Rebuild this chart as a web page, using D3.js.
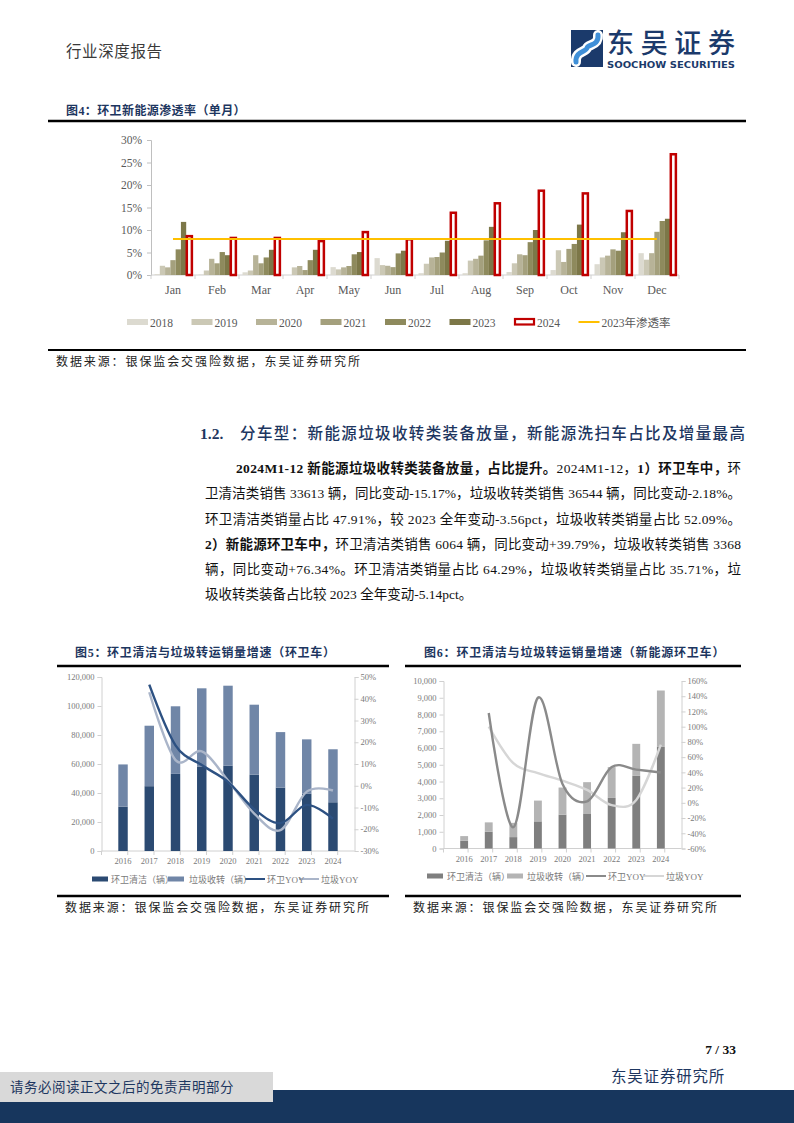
<!DOCTYPE html>
<html><head><meta charset="utf-8">
<script src="https://cdn.jsdelivr.net/npm/d3@7/dist/d3.min.js"></script>
<style>body{margin:0;background:#fff}svg{display:block}</style>
</head><body>
<svg id="page" width="794" height="1123"></svg>
<script>
// ---------- Figure 4 data ----------
const months = ["Jan","Feb","Mar","Apr","May","Jun","Jul","Aug","Sep","Oct","Nov","Dec"];
const penYears = ["2018","2019","2020","2021","2022","2023","2024"];
const pen2018 = [0.2,0.1,0.6,0.0,1.75,3.75,0.4,0.4,0.66,1.1,2.4,4.85];
const pen2019 = [2.05,1.0,1.0,1.7,1.25,2.2,2.5,3.2,2.6,5.5,3.9,3.4];
const pen2020 = [1.7,3.6,4.4,2.0,1.7,2.05,3.9,3.6,4.6,2.9,4.3,4.85];
const pen2021 = [3.3,2.6,2.6,1.1,2.0,1.75,4.0,4.3,4.4,5.8,5.7,9.6];
const pen2022 = [5.7,5.1,3.9,3.3,4.6,4.8,5.0,7.7,7.3,6.9,5.4,12.0];
const pen2023 = [11.8,4.4,5.6,5.6,5.1,5.4,7.6,10.7,10.0,11.2,9.5,12.5];
const pen2024 = [8.9,8.5,8.5,7.8,9.8,8.2,14.1,16.2,19.0,18.4,14.5,27.1];
const pen2023Full = 8.0;
const penTicks = [0,5,10,15,20,25,30];

// ---------- Figure 5 data (环卫车) ----------
const years = ["2016","2017","2018","2019","2020","2021","2022","2023","2024"];
const sanClean = [30600,44700,53200,58300,58800,52700,43700,39600,33613];
const sanGarbage = [29100,41700,46600,53900,55200,48200,38300,37400,36544];
const sanCleanYoy = [null,46.5,18.6,9.5,1.8,-10.8,-17.2,-8.8,-15.17];
const sanGarbageYoy = [null,43.0,11.8,15.8,2.4,-12.8,-20.4,-2.7,-2.18];
const sanLeftTicks = [0,20000,40000,60000,80000,100000,120000];
const sanRightTicks = [-30,-20,-10,0,10,20,30,40,50];

// ---------- Figure 6 data (新能源环卫车) ----------
const nevClean = [460,1000,680,1620,2020,2060,3020,4338,6064];
const nevGarbage = [280,560,850,1240,1620,1900,1840,1910,3368];
const nevCleanYoy = [null,118,-32,138,24.7,2,47,43.6,39.79];
const nevGarbageYoy = [null,100,52,39,29,17,-3,3.8,76.34];
const nevLeftTicks = [0,1000,2000,3000,4000,5000,6000,7000,8000,9000,10000];
const nevRightTicks = [-60,-40,-20,0,20,40,60,80,100,120,140,160];

const SERIF = "'Liberation Serif','Times New Roman','Noto Sans CJK SC',serif";
const CJK = "'Liberation Serif','Noto Sans CJK SC',sans-serif";
const NAVY = "#1d3660";

const svg = d3.select("#page");

// ---------- Header ----------
svg.append("text").attr("x",66).attr("y",57).attr("font-family",CJK).attr("font-size",15.5)
  .attr("letter-spacing",0.6).attr("fill","#3a3a3a").text("行业深度报告");
// logo
const lg = svg.append("g").attr("transform","translate(571,30)");
lg.append("rect").attr("width",32).attr("height",37).attr("fill","#1b3a6b");
lg.append("path").attr("d","M5,32 C4,21 15,22 16,18 C17,14 28,16 27,5").attr("fill","none")
  .attr("stroke","#fff").attr("stroke-width",10).attr("stroke-linecap","round");
lg.append("path").attr("d","M5,32 C4,21 15,22 16,18 C17,14 28,16 27,5").attr("fill","none")
  .attr("stroke","#3f8fd8").attr("stroke-width",5).attr("stroke-linecap","round");
svg.append("text").attr("x",607).attr("y",53).attr("font-family","'Noto Sans CJK SC',sans-serif")
  .attr("font-size",27).attr("font-weight",500).attr("fill","#1b3a6b").attr("textLength",128).text("东吴证券");
svg.append("text").attr("x",607).attr("y",68).attr("font-family","'DejaVu Sans Condensed','Liberation Sans Narrow','DejaVu Sans',sans-serif")
  .attr("font-size",9).attr("font-weight","bold").attr("fill","#1b3a6b").attr("textLength",128).attr("lengthAdjust","spacingAndGlyphs").text("SOOCHOW SECURITIES");

// ---------- Figure 4 ----------
svg.append("text").attr("x",66).attr("y",115).attr("font-family",CJK).attr("font-size",12)
  .attr("font-weight","bold").attr("fill",NAVY).attr("letter-spacing",0.4).text("图4：环卫新能源渗透率（单月）");
svg.append("line").attr("x1",48).attr("x2",746).attr("y1",121).attr("y2",121).attr("stroke","#000").attr("stroke-width",2.5);
svg.append("line").attr("x1",48).attr("x2",746).attr("y1",350).attr("y2",350).attr("stroke","#000").attr("stroke-width",2);
svg.append("text").attr("x",56).attr("y",366).attr("font-family",CJK).attr("font-size",12)
  .attr("letter-spacing",1.9).attr("fill","#222").text("数据来源：银保监会交强险数据，东吴证券研究所");

(function(){
  const series = [pen2018,pen2019,pen2020,pen2021,pen2022,pen2023,pen2024];
  const colors = ["#dcdad0","#cbc8b5","#b7b398","#a4a07d","#8e8a5d","#7c7748"];
  const x0 = d3.scaleBand().domain(months).range([151,679]).paddingInner(0.16).paddingOuter(0.08);
  const x1 = d3.scaleBand().domain(penYears).range([0,x0.bandwidth()]);
  const y = d3.scaleLinear().domain([0,30]).range([275,140]);
  const g = svg.append("g");
  const ya = d3.axisLeft(y).tickValues(penTicks).tickFormat(d=>d+"%").tickSize(4).tickPadding(5);
  const gy = g.append("g").attr("transform","translate(151,0)").call(ya);
  gy.select(".domain").attr("stroke","#bfbfbf");
  gy.selectAll(".tick line").attr("stroke","#bfbfbf");
  gy.selectAll("text").attr("font-family",SERIF).attr("font-size",11.5).attr("fill","#595959");
  const gx = g.append("g").attr("transform","translate(0,275)");
  gx.append("line").attr("x1",151).attr("x2",679).attr("stroke","#d0d0d0");
  gx.selectAll("line.t").data(d3.range(13)).join("line").attr("class","t")
    .attr("x1",i=>151+i*(528/12)).attr("x2",i=>151+i*(528/12)).attr("y1",0).attr("y2",4).attr("stroke","#d0d0d0");
  gx.selectAll("text").data(months).join("text").attr("x",d=>x0(d)+x0.bandwidth()/2).attr("y",19)
    .attr("text-anchor","middle").attr("font-family",SERIF).attr("font-size",12).attr("fill","#595959").text(d=>d);
  series.forEach((arr,si)=>{
    const yr = penYears[si];
    const sel = g.append("g").selectAll("rect").data(arr).join("rect")
      .attr("x",(d,i)=>x0(months[i])+x1(yr))
      .attr("width",x1.bandwidth())
      .attr("y",d=>y(d)).attr("height",d=>y(0)-y(d));
    if(si<6) sel.attr("fill",colors[si]);
    else sel.attr("fill","#fff").attr("stroke","#c00000").attr("stroke-width",2.5)
      .attr("x",(d,i)=>x0(months[i])+x1(yr)+0.6).attr("width",x1.bandwidth()-0.2)
      .attr("y",d=>y(d)+1.2).attr("height",d=>y(0)-y(d)-1.2);
  });
  g.append("line").attr("x1",x0(months[0])+x0.bandwidth()/2).attr("x2",x0(months[11])+x0.bandwidth()/2)
    .attr("y1",y(pen2023Full)).attr("y2",y(pen2023Full)).attr("stroke","#ffc000").attr("stroke-width",2);
  const lgx = 127, lstep = 64.5;
  const legItems = penYears.concat(["2023年渗透率"]);
  legItems.forEach((name,i)=>{
    const lx = lgx + i*lstep;
    if(i<6) g.append("rect").attr("x",lx).attr("y",319).attr("width",21).attr("height",6).attr("fill",colors[i]);
    else if(i===6) g.append("rect").attr("x",lx+1).attr("y",319).attr("width",19).attr("height",5.5).attr("fill","#fff").attr("stroke","#c00000").attr("stroke-width",2.2);
    else g.append("line").attr("x1",lx).attr("x2",lx+21).attr("y1",322).attr("y2",322).attr("stroke","#ffc000").attr("stroke-width",2);
    g.append("text").attr("x",lx+23).attr("y",326.5).attr("font-family",CJK).attr("font-size",11.5).attr("fill","#595959").text(name);
  });
})();

// ---------- Section heading & paragraph ----------
svg.append("text").attr("x",200).attr("y",439).attr("font-family",SERIF).attr("font-size",15.5)
  .attr("font-weight","bold").attr("fill",NAVY).text("1.2.");
svg.append("text").attr("x",240).attr("y",439).attr("font-family",CJK).attr("font-size",15.5)
  .attr("font-weight",500).attr("fill",NAVY).attr("textLength",505).text("分车型：新能源垃圾收转类装备放量，新能源洗扫车占比及增量最高");

const paraLines = [
  {x:236, y:473, w:505, segs:[["2024M1-12 新能源垃圾收转类装备放量，占比提升。",1],["2024M1-12，",0],["1）环卫车中，",1],["环",0]]},
  {x:205, y:498, w:536, segs:[["卫清洁类销售 33613 辆，同比变动-15.17%，垃圾收转类销售 36544 辆，同比变动-2.18%。",0]]},
  {x:205, y:524, w:536, segs:[["环卫清洁类销量占比 47.91%，较 2023 全年变动-3.56pct，垃圾收转类销量占比 52.09%。",0]]},
  {x:205, y:549, w:536, segs:[["2）新能源环卫车中，",1],["环卫清洁类销售 6064 辆，同比变动+39.79%，垃圾收转类销售 3368",0]]},
  {x:205, y:574, w:536, segs:[["辆，同比变动+76.34%。环卫清洁类销量占比 64.29%，垃圾收转类销量占比 35.71%，垃",0]]},
  {x:205, y:599, w:null, segs:[["圾收转类装备占比较 2023 全年变动-5.14pct。",0]]}
];
paraLines.forEach(L=>{
  const t = svg.append("text").attr("x",L.x).attr("y",L.y).attr("font-family",CJK).attr("font-size",13.5).attr("fill","#111");
  if(L.w){ t.attr("textLength",L.w).attr("lengthAdjust","spacing"); }
  L.segs.forEach(s=>t.append("tspan").attr("font-weight",s[1]?"bold":"normal").text(s[0]));
});

// ---------- Generic combo chart ----------
function combo(opt){
  const g = svg.append("g");
  const x = d3.scaleBand().domain(years).range([opt.x0,opt.x1]).padding(opt.pad);
  const yl = d3.scaleLinear().domain(opt.ldom).range([opt.yb,opt.yt]);
  const yr = d3.scaleLinear().domain(opt.rdom).range([opt.yb,opt.yt]);
  const axL = d3.axisLeft(yl).tickValues(opt.lticks).tickFormat(d3.format(",")).tickSize(4).tickPadding(3);
  const gl = g.append("g").attr("transform",`translate(${opt.x0},0)`).call(axL);
  const axR = d3.axisRight(yr).tickValues(opt.rticks).tickFormat(d=>d+"%").tickSize(4).tickPadding(2);
  const gr = g.append("g").attr("transform",`translate(${opt.x1},0)`).call(axR);
  [gl,gr].forEach(a=>{
    a.select(".domain").attr("stroke","#d0d0d0");
    a.selectAll(".tick line").attr("stroke","#d0d0d0");
    a.selectAll("text").attr("font-family",SERIF).attr("font-size",8.5).attr("fill","#7a7a7a");
  });
  g.append("line").attr("x1",opt.x0).attr("x2",opt.x1).attr("y1",opt.yb).attr("y2",opt.yb).attr("stroke","#d0d0d0");
  g.selectAll("line.xt").data(d3.range(years.length+1)).join("line").attr("class","xt")
    .attr("x1",i=>opt.x0+i*x.step()).attr("x2",i=>opt.x0+i*x.step()).attr("y1",opt.yb).attr("y2",opt.yb+4).attr("stroke","#d0d0d0");
  g.selectAll("text.xl").data(years).join("text").attr("class","xl")
    .attr("x",d=>x(d)+x.bandwidth()/2).attr("y",opt.yb+13).attr("text-anchor","middle")
    .attr("font-family",SERIF).attr("font-size",8.5).attr("fill","#7a7a7a").text(d=>d);
  g.selectAll("rect.a").data(opt.a).join("rect").attr("class","a")
    .attr("x",(d,i)=>x(years[i])).attr("width",x.bandwidth())
    .attr("y",d=>yl(d)).attr("height",d=>opt.yb-yl(d)).attr("fill",opt.ca);
  g.selectAll("rect.b").data(opt.b).join("rect").attr("class","b")
    .attr("x",(d,i)=>x(years[i])).attr("width",x.bandwidth())
    .attr("y",(d,i)=>yl(d+opt.a[i])).attr("height",(d,i)=>yl(opt.a[i])-yl(d+opt.a[i])).attr("fill",opt.cb);
  const line = d3.line().x(d=>x(d[0])+x.bandwidth()/2).y(d=>yr(d[1])).curve(d3.curveCardinal.tension(0));
  const pts = arr => years.map((yy,i)=>[yy,arr[i]]).filter(d=>d[1]!==null);
  g.append("path").attr("d",line(pts(opt.lb))).attr("fill","none").attr("stroke",opt.clb).attr("stroke-width",2.4);
  g.append("path").attr("d",line(pts(opt.la))).attr("fill","none").attr("stroke",opt.cla).attr("stroke-width",2.4);
  const ly = opt.ly, L = opt.leg;
  g.append("rect").attr("x",L[0]).attr("y",ly-2.5).attr("width",16).attr("height",5).attr("fill",opt.ca);
  g.append("rect").attr("x",L[2]).attr("y",ly-2.5).attr("width",16).attr("height",5).attr("fill",opt.cb);
  g.append("line").attr("x1",L[4]).attr("x2",L[4]+20).attr("y1",ly).attr("y2",ly).attr("stroke",opt.cla).attr("stroke-width",2);
  g.append("line").attr("x1",L[6]).attr("x2",L[6]+20).attr("y1",ly).attr("y2",ly).attr("stroke",opt.clb).attr("stroke-width",2);
  const names = ["环卫清洁（辆）","垃圾收转（辆）","环卫YOY","垃圾YOY"];
  names.forEach((n,i)=>g.append("text").attr("x",L[i*2+1]).attr("y",ly+3.5).attr("font-family",CJK)
    .attr("font-size",9).attr("fill","#7a7a7a").text(n));
}

// Figure 5
svg.append("text").attr("x",75).attr("y",657).attr("font-family",CJK).attr("font-size",12)
  .attr("font-weight","bold").attr("fill",NAVY).attr("letter-spacing",0.7).text("图5：环卫清洁与垃圾转运销量增速（环卫车）");
svg.append("line").attr("x1",57).attr("x2",389).attr("y1",666).attr("y2",666).attr("stroke","#000").attr("stroke-width",2.5);
svg.append("line").attr("x1",57).attr("x2",389).attr("y1",896).attr("y2",896).attr("stroke","#000").attr("stroke-width",2.5);
svg.append("text").attr("x",65).attr("y",912).attr("font-family",CJK).attr("font-size",12)
  .attr("letter-spacing",1.9).attr("fill","#222").text("数据来源：银保监会交强险数据，东吴证券研究所");
combo({x0:101.5,x1:354.5,yb:851,yt:677,pad:0.64,ldom:[0,120000],rdom:[-30,50],lticks:sanLeftTicks,rticks:sanRightTicks,
  a:sanClean,b:sanGarbage,la:sanCleanYoy,lb:sanGarbageYoy,ca:"#2b4a72",cb:"#7086a7",cla:"#2d5182",clb:"#aab5c9",
  ly:879,leg:[92,111,168,189,245,267,299,321]});

// Figure 6
svg.append("text").attr("x",424).attr("y",657).attr("font-family",CJK).attr("font-size",12)
  .attr("font-weight","bold").attr("fill",NAVY).attr("letter-spacing",0.8).text("图6：环卫清洁与垃圾转运销量增速（新能源环卫车）");
svg.append("line").attr("x1",405).attr("x2",741).attr("y1",666).attr("y2",666).attr("stroke","#000").attr("stroke-width",2.5);
svg.append("line").attr("x1",405).attr("x2",741).attr("y1",896).attr("y2",896).attr("stroke","#000").attr("stroke-width",2.5);
svg.append("text").attr("x",413).attr("y",912).attr("font-family",CJK).attr("font-size",12)
  .attr("letter-spacing",1.9).attr("fill","#222").text("数据来源：银保监会交强险数据，东吴证券研究所");
combo({x0:443.5,x1:681.5,yb:848.5,yt:681,pad:0.68,ldom:[0,10000],rdom:[-60,160],lticks:nevLeftTicks,rticks:nevRightTicks,
  a:nevClean,b:nevGarbage,la:nevCleanYoy,lb:nevGarbageYoy,ca:"#7f7f7f",cb:"#b4b4b4",cla:"#8a8a8a",clb:"#d6d6d6",
  ly:876,leg:[427,447,507,527,586,608,644,666]});

// ---------- Footer ----------
svg.append("text").attr("x",736).attr("y",1054).attr("text-anchor","end").attr("font-family",SERIF)
  .attr("font-size",13.5).attr("font-weight","bold").attr("fill","#111").text("7 / 33");
svg.append("text").attr("x",611).attr("y",1082).attr("font-family",CJK).attr("font-size",15.5)
  .attr("fill",NAVY).attr("letter-spacing",0.8).text("东吴证券研究所");
svg.append("rect").attr("x",0).attr("y",1090).attr("width",794).attr("height",33).attr("fill","#17365d");
svg.append("rect").attr("x",0).attr("y",1072).attr("width",273).attr("height",30).attr("fill","#d9d9d9");
svg.append("text").attr("x",10).attr("y",1092).attr("font-family",CJK).attr("font-size",13.5)
  .attr("fill",NAVY).attr("letter-spacing",0.5).text("请务必阅读正文之后的免责声明部分");
</script>
</body></html>
